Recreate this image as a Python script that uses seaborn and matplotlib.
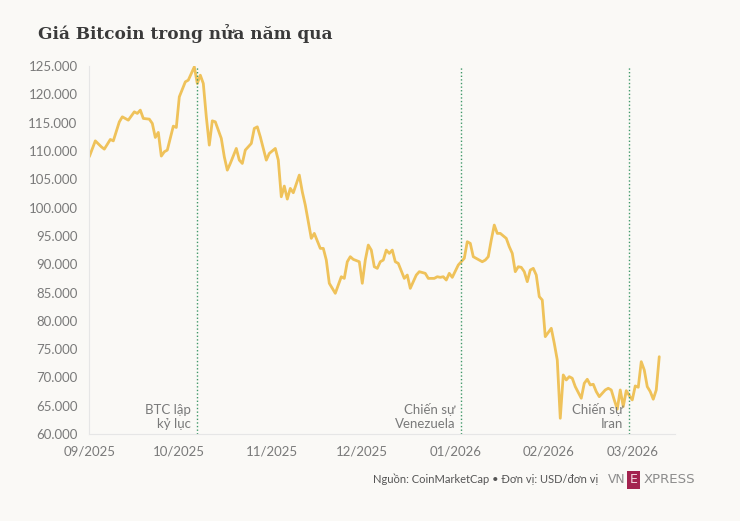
import pandas as pd
import numpy as np
import matplotlib.pyplot as plt
import matplotlib.dates as mdates
import matplotlib.ticker as mticker
import seaborn as sns

# Giá BTC (USD), theo ngày
dates = [
    '2025-09-01', '2025-09-03', '2025-09-05', '2025-09-06', '2025-09-08', '2025-09-09',
    '2025-09-11', '2025-09-12', '2025-09-14', '2025-09-16', '2025-09-17', '2025-09-18',
    '2025-09-19', '2025-09-21', '2025-09-22', '2025-09-23', '2025-09-24', '2025-09-25',
    '2025-09-26', '2025-09-27', '2025-09-29', '2025-09-30', '2025-10-01', '2025-10-03',
    '2025-10-04', '2025-10-06', '2025-10-07', '2025-10-08', '2025-10-09', '2025-10-10',
    '2025-10-11', '2025-10-12', '2025-10-13', '2025-10-15', '2025-10-16', '2025-10-17',
    '2025-10-18', '2025-10-20', '2025-10-21', '2025-10-22', '2025-10-23', '2025-10-25',
    '2025-10-26', '2025-10-27', '2025-10-28', '2025-10-30', '2025-10-31', '2025-11-02',
    '2025-11-03', '2025-11-04', '2025-11-05', '2025-11-06', '2025-11-07', '2025-11-08',
    '2025-11-10', '2025-11-11', '2025-11-12', '2025-11-14', '2025-11-15', '2025-11-17',
    '2025-11-18', '2025-11-19', '2025-11-20', '2025-11-22', '2025-11-24', '2025-11-25',
    '2025-11-26', '2025-11-27', '2025-11-28', '2025-11-30', '2025-12-01', '2025-12-02',
    '2025-12-03', '2025-12-04', '2025-12-05', '2025-12-06', '2025-12-07', '2025-12-08',
    '2025-12-09', '2025-12-10', '2025-12-11', '2025-12-12', '2025-12-13', '2025-12-15',
    '2025-12-16', '2025-12-17', '2025-12-19', '2025-12-20', '2025-12-22', '2025-12-23',
    '2025-12-25', '2025-12-26', '2025-12-27', '2025-12-28', '2025-12-29', '2025-12-30',
    '2025-12-31', '2026-01-02', '2026-01-04', '2026-01-05', '2026-01-06', '2026-01-07',
    '2026-01-08', '2026-01-10', '2026-01-11', '2026-01-12', '2026-01-13', '2026-01-14',
    '2026-01-15', '2026-01-16', '2026-01-18', '2026-01-19', '2026-01-20', '2026-01-21',
    '2026-01-22', '2026-01-23', '2026-01-24', '2026-01-25', '2026-01-26', '2026-01-27',
    '2026-01-28', '2026-01-29', '2026-01-30', '2026-01-31', '2026-02-02', '2026-02-03',
    '2026-02-04', '2026-02-05', '2026-02-06', '2026-02-07', '2026-02-08', '2026-02-09',
    '2026-02-10', '2026-02-12', '2026-02-13', '2026-02-14', '2026-02-15', '2026-02-16',
    '2026-02-17', '2026-02-18', '2026-02-20', '2026-02-21', '2026-02-22', '2026-02-23',
    '2026-02-24', '2026-02-25', '2026-02-26', '2026-02-27', '2026-02-28', '2026-03-01',
    '2026-03-02', '2026-03-03', '2026-03-04', '2026-03-05', '2026-03-06', '2026-03-07',
    '2026-03-08', '2026-03-09', '2026-03-10',
]
prices = [
    109000, 111800, 110750, 110340, 112050, 111800,
    115160, 116050, 115460, 116930, 116650, 117230,
    115760, 115640, 114880, 112400, 113290, 109110,
    109870, 110170, 114400, 114170, 119580, 122230,
    122530, 124880, 121940, 123410, 121940, 116050,
    111050, 115340, 115160, 112230, 108980, 106630,
    107810, 110460, 108400, 107810, 110170, 111340,
    114000, 114280, 112520, 108400, 109580, 110460,
    108400, 101920, 103810, 101510, 103400, 102630,
    105750, 102800, 100450, 94570, 95450, 92800,
    92800, 90740, 86630, 84860, 87790, 87500,
    90440, 91330, 90860, 90440, 86630, 90740,
    93390, 92500, 89560, 89270, 90440, 90740,
    92500, 91920, 92500, 90440, 90150, 87500,
    88090, 85740, 88090, 88680, 88390, 87500,
    87500, 87790, 87680, 87790, 87210, 88390,
    87680, 89860, 91040, 93980, 93690, 91330,
    91040, 90440, 90740, 91330, 94280, 96920,
    95450, 95450, 94570, 93100, 91920, 88680,
    89560, 89450, 88680, 86920, 88970, 89270,
    88090, 84270, 83680, 77200, 78680, 76030,
    73080, 62780, 70430, 69550, 70130, 69850,
    68370, 66320, 68960, 69670, 68670, 68790,
    67490, 66600, 67780, 68080, 67780, 66020,
    64380, 67780, 64850, 67660, 66800, 66020,
    68490, 68260, 72780, 71310, 68370, 67490,
    66140, 67780, 73660,
]

# Các sự kiện
event_dates = ['2025-10-07', '2026-01-03', '2026-02-28']
event_labels = ['BTC lập\nkỷ lục', 'Chiến sự\nVenezuela', 'Chiến sự\nIran']

df = pd.DataFrame({'date': pd.to_datetime(dates), 'price': prices})

sns.set_style('white')
plt.rcParams['font.family'] = ['Lato', 'DejaVu Sans']

bg = '#faf9f6'
grey = '#7a7a7a'
fig = plt.figure(figsize=(7.4, 5.21), dpi=100, facecolor=bg)
ax = fig.add_axes([0.1207, 0.167, 0.7913, 0.706], facecolor=bg)

sns.lineplot(data=df, x='date', y='price', ax=ax, color='#efc25a', linewidth=2.0)

for d, lab in zip(event_dates, event_labels):
    xd = pd.Timestamp(d)
    ax.axvline(xd, color='#3f9868', linestyle=(0, (1, 1.6)), linewidth=1.0)
    ax.text(xd - pd.Timedelta(days=2), 60700, lab, ha='right', va='bottom',
            fontsize=9.5, color=grey, linespacing=1.25)

ax.set_ylim(60000, 125000)
ax.set_xlim(pd.Timestamp('2025-09-01'), pd.Timestamp('2026-03-15 05:00'))
ax.yaxis.set_major_locator(mticker.MultipleLocator(5000))
ax.yaxis.set_major_formatter(mticker.FuncFormatter(lambda v, p: f'{int(v):,}'.replace(',', '.')))
ax.xaxis.set_major_locator(mdates.MonthLocator())
ax.xaxis.set_major_formatter(mdates.DateFormatter('%m/%Y'))

ax.set_xlabel('')
ax.set_ylabel('')
ax.tick_params(axis='both', colors='#e3e3e3', labelcolor=grey, labelsize=9.5, length=5, width=0.8)
for side in ['top', 'right']:
    ax.spines[side].set_visible(False)
for side in ['left', 'bottom']:
    ax.spines[side].set_color('#e6e6e6')
    ax.spines[side].set_linewidth(0.8)

fig.text(0.051, 0.925, 'Giá Bitcoin trong nửa năm qua', fontsize=12.2, fontweight='bold',
         color='#3a3a3a', family=['DejaVu Serif'], va='baseline')

fig.text(0.808, 0.072, 'Nguồn: CoinMarketCap • Đơn vị: USD/đơn vị', fontsize=8.0,
         color='#555555', ha='right', va='baseline')
fig.text(0.8215, 0.072, 'VN', fontsize=8.8, color='#8c8c8c', va='baseline', family=['DejaVu Sans'])
fig.text(0.851, 0.072, 'E', fontsize=9, color='#f3d6df', va='baseline', family=['DejaVu Sans'],
         bbox=dict(boxstyle='square,pad=0.18', facecolor='#a3234f', edgecolor='none'))
fig.text(0.870, 0.072, 'XPRESS', fontsize=9.6, color='#8c8c8c', va='baseline', family=['DejaVu Sans'])

plt.savefig('out.png', dpi=100, facecolor=bg)
